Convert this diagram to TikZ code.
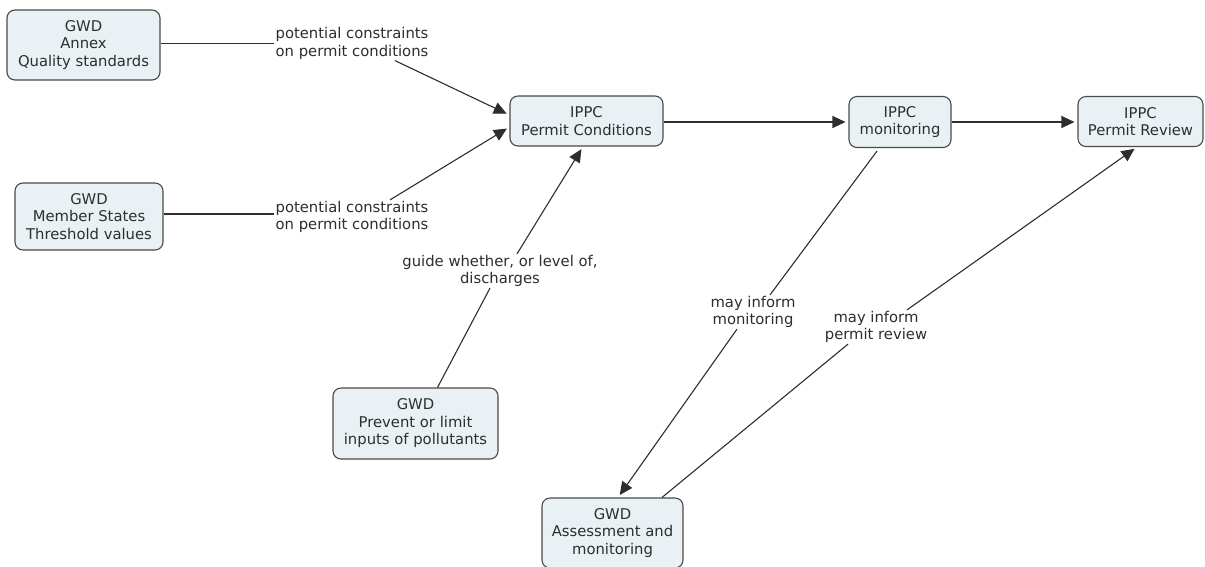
\documentclass[tikz,border=0pt]{standalone}
\usepackage{fontspec}
\setmainfont{DejaVu Sans}
\usetikzlibrary{arrows.meta,calc}
\definecolor{boxfill}{HTML}{EAF1F4}
\definecolor{boxline}{HTML}{4A4A4A}
\definecolor{ink}{HTML}{2E2E2E}
\begin{document}
\begin{tikzpicture}[x=1pt,y=-1pt,
  concept/.style={draw=boxline, fill=boxfill, rounded corners=8pt, line width=1.1pt,
    align=center, text=ink, font=\fontsize{14.8}{17.5}\selectfont, inner sep=0pt},
  linklabel/.style={align=center, text=ink, font=\fontsize{14.8}{17.5}\selectfont, inner sep=1pt},
  link/.style={draw=ink, line width=1.1pt},
  linkarrow/.style={link, -{Triangle[length=13pt,width=12pt]}, shorten >=3pt}]
\fill[white] (0,0) rectangle (1205,566);
\useasboundingbox (0,0) rectangle (1205,566);

% concepts
\node[concept, minimum width=153pt, minimum height=70pt] (a) at (83.5,45) {GWD\\Annex\\Quality standards};
\node[concept, minimum width=148pt, minimum height=67pt] (b) at (89,216.5) {GWD\\Member States\\Threshold values};
\node[concept, minimum width=153pt, minimum height=50pt] (c) at (586.5,121) {IPPC\\Permit Conditions};
\node[concept, minimum width=102pt, minimum height=51pt] (d) at (900,122) {IPPC\\monitoring};
\node[concept, minimum width=125pt, minimum height=50pt] (e) at (1140.5,121.5) {IPPC\\Permit Review};
\node[concept, minimum width=165pt, minimum height=71pt] (f) at (415.5,423.5) {GWD\\Prevent or limit\\inputs of pollutants};
\node[concept, minimum width=141pt, minimum height=70pt] (g) at (612.5,533) {GWD\\Assessment and\\monitoring};

% linking phrases
\node[linklabel] (l1) at (352,43.5) {potential constraints\\on permit conditions};
\node[linklabel] (l2) at (352,217) {potential constraints\\on permit conditions};
\node[linklabel] (l3) at (500,271) {guide whether, or level of,\\discharges};
\node[linklabel] (l4) at (753,312) {may inform\\monitoring};
\node[linklabel] (l5) at (876,327) {may inform\\permit review};

% connections
\draw[link] (l1.west -| a.east) -- (l1.west);
\draw[linkarrow] ([xshift=43pt]l1.south) -- ([yshift=6pt]c.west);
\draw[link] ([yshift=3pt]l2.west -| b.east) -- ([yshift=3pt]l2.west);
\draw[linkarrow] ([xshift=38pt]l2.north) -- ([yshift=-6pt]c.west);
\draw[link] ([xshift=22pt]f.north) -- ([xshift=-10pt]l3.south);
\draw[linkarrow] ([xshift=17pt]l3.north) -- ([xshift=-3.5pt]c.south);
\draw[linkarrow] ([yshift=-1pt]c.east) -- ([yshift=-1pt]c.east -| d.west);
\draw[linkarrow] (d.east) -- (d.east -| e.west);
\draw[link] ([xshift=-23pt,yshift=-3pt]d.south) -- ([xshift=17pt]l4.north);
\draw[linkarrow] ([xshift=-16pt]l4.south) -- ([xshift=5.5pt]g.north);
\draw[link] ([xshift=49.5pt]g.north) -- ([xshift=-28pt]l5.south);
\draw[linkarrow] ([xshift=31pt]l5.north) -- ([xshift=-3.5pt]e.south);
\end{tikzpicture}
\end{document}
